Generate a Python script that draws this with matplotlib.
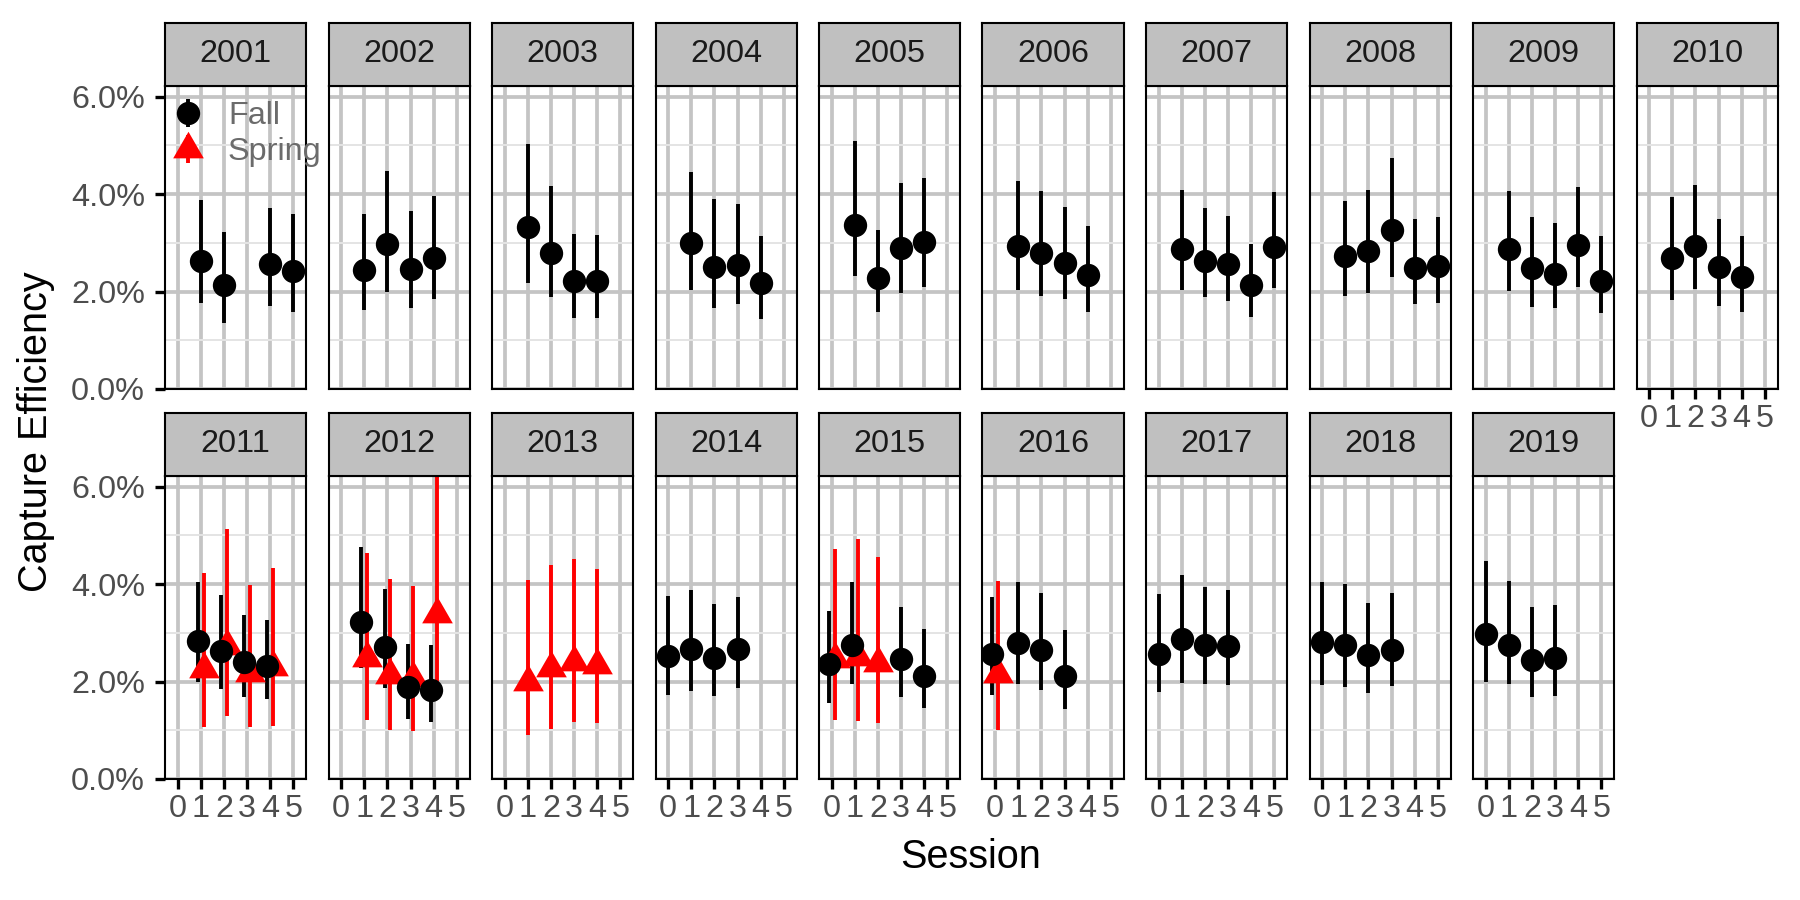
import numpy as np
import matplotlib.pyplot as plt
from matplotlib.lines import Line2D
from matplotlib.path import Path
from matplotlib.legend_handler import HandlerTuple
from matplotlib.ticker import FuncFormatter, FixedLocator

plt.rcParams['font.family'] = ['Liberation Sans', 'DejaVu Sans']

years = list(range(2001, 2020))
sessions = [0, 1, 2, 3, 4, 5]

# fall estimates (percent), with lower / upper interval
fall_year = [2001, 2001, 2001, 2001,
             2002, 2002, 2002, 2002,
             2003, 2003, 2003, 2003,
             2004, 2004, 2004, 2004,
             2005, 2005, 2005, 2005,
             2006, 2006, 2006, 2006,
             2007, 2007, 2007, 2007, 2007,
             2008, 2008, 2008, 2008, 2008,
             2009, 2009, 2009, 2009, 2009,
             2010, 2010, 2010, 2010,
             2011, 2011, 2011, 2011,
             2012, 2012, 2012, 2012,
             2014, 2014, 2014, 2014,
             2015, 2015, 2015, 2015,
             2016, 2016, 2016, 2016,
             2017, 2017, 2017, 2017,
             2018, 2018, 2018, 2018,
             2019, 2019, 2019, 2019]
fall_session = [1, 2, 4, 5,
                1, 2, 3, 4,
                1, 2, 3, 4,
                1, 2, 3, 4,
                1, 2, 3, 4,
                1, 2, 3, 4,
                1, 2, 3, 4, 5,
                1, 2, 3, 4, 5,
                1, 2, 3, 4, 5,
                1, 2, 3, 4,
                1, 2, 3, 4,
                1, 2, 3, 4,
                0, 1, 2, 3,
                0, 1, 3, 4,
                0, 1, 2, 3,
                0, 1, 2, 3,
                0, 1, 2, 3,
                0, 1, 2, 3]
fall_est = [2.62, 2.14, 2.56, 2.43,
            2.45, 2.97, 2.46, 2.69,
            3.33, 2.80, 2.22, 2.22,
            3.00, 2.51, 2.55, 2.18,
            3.37, 2.28, 2.89, 3.01,
            2.93, 2.79, 2.59, 2.33,
            2.88, 2.63, 2.56, 2.13, 2.92,
            2.73, 2.84, 3.27, 2.49, 2.52,
            2.88, 2.49, 2.37, 2.95, 2.22,
            2.68, 2.94, 2.50, 2.29,
            2.84, 2.62, 2.41, 2.32,
            3.23, 2.71, 1.89, 1.83,
            2.52, 2.67, 2.48, 2.67,
            2.36, 2.75, 2.47, 2.12,
            2.56, 2.80, 2.65, 2.12,
            2.56, 2.88, 2.76, 2.73,
            2.82, 2.76, 2.54, 2.65,
            2.97, 2.76, 2.44, 2.49]
fall_lo = [1.77, 1.36, 1.70, 1.58,
           1.62, 1.99, 1.67, 1.85,
           2.18, 1.88, 1.46, 1.46,
           2.03, 1.67, 1.75, 1.43,
           2.32, 1.59, 1.98, 2.10,
           2.03, 1.90, 1.84, 1.58,
           2.03, 1.88, 1.80, 1.48, 2.07,
           1.90, 1.97, 2.30, 1.74, 1.77,
           2.01, 1.69, 1.66, 2.10, 1.56,
           1.82, 2.05, 1.71, 1.59,
           1.99, 1.84, 1.69, 1.64,
           2.27, 1.87, 1.24, 1.16,
           1.73, 1.80, 1.70, 1.87,
           1.56, 1.95, 1.69, 1.45,
           1.73, 1.96, 1.83, 1.43,
           1.78, 1.98, 1.95, 1.93,
           1.93, 1.89, 1.77, 1.90,
           1.99, 1.95, 1.69, 1.70]
fall_hi = [3.89, 3.22, 3.72, 3.60,
           3.60, 4.48, 3.65, 3.96,
           5.03, 4.16, 3.18, 3.17,
           4.45, 3.91, 3.79, 3.14,
           5.10, 3.26, 4.22, 4.34,
           4.27, 4.07, 3.73, 3.35,
           4.08, 3.72, 3.55, 2.98, 4.05,
           3.85, 4.09, 4.75, 3.50, 3.53,
           4.07, 3.54, 3.41, 4.14, 3.14,
           3.95, 4.18, 3.48, 3.15,
           4.05, 3.77, 3.36, 3.26,
           4.76, 3.90, 2.78, 2.75,
           3.75, 3.88, 3.59, 3.73,
           3.44, 4.05, 3.54, 3.08,
           3.73, 4.05, 3.81, 3.06,
           3.79, 4.18, 3.94, 3.87,
           4.05, 4.00, 3.61, 3.81,
           4.48, 4.06, 3.54, 3.57]

# spring estimates (percent)
spring_year = [2011, 2011, 2011, 2011,
               2012, 2012, 2012, 2012,
               2013, 2013, 2013, 2013,
               2015, 2015, 2015,
               2016]
spring_session = [1, 2, 3, 4,
                  1, 2, 3, 4,
                  1, 2, 3, 4,
                  0, 1, 2,
                  0]
spring_est = [2.26, 2.72, 2.17, 2.30,
              2.49, 2.14, 2.07, 3.38,
              2.00, 2.28, 2.40, 2.34,
              2.47, 2.50, 2.38,
              2.16]
spring_lo = [1.06, 1.29, 1.06, 1.09,
             1.21, 1.00, 0.98, 1.64,
             0.91, 1.03, 1.16, 1.14,
             1.21, 1.19, 1.15,
             1.01]
spring_hi = [4.22, 5.13, 3.98, 4.33,
             4.63, 4.10, 3.96, 7.30,
             4.08, 4.40, 4.52, 4.31,
             4.73, 4.92, 4.56,
             4.07]

fall_year = np.array(fall_year)
fall_session = np.array(fall_session, dtype=float)
fall_est, fall_lo, fall_hi = map(np.array, (fall_est, fall_lo, fall_hi))
spring_year = np.array(spring_year)
spring_session = np.array(spring_session, dtype=float)
spring_est, spring_lo, spring_hi = map(np.array, (spring_est, spring_lo, spring_hi))

# dodge where both seasons share a year/session
both = set(zip(fall_year, fall_session)) & set(zip(spring_year, spring_session))
fall_x = np.array([s - 0.125 if (y, s) in both else s for y, s in zip(fall_year, fall_session)])
spring_x = np.array([s + 0.125 if (y, s) in both else s for y, s in zip(spring_year, spring_session)])

# centroid-centred triangle like R's pch 17
tri = Path([(0, 1), (-0.866, -0.5), (0.866, -0.5), (0, 1)],
           [Path.MOVETO, Path.LINETO, Path.LINETO, Path.CLOSEPOLY])

W, H = 1800, 900
fig = plt.figure(figsize=(18, 9), dpi=100)

pw, ph = 141 / W, 303 / H
sh = 63 / H
pitch = 163.5 / W
x0 = 165 / W
row_bottom = [(H - 389) / H, (H - 779) / H]

tick_fs = 23.3
title_fs = 28.5
major_c = '#c4c4c4'
minor_c = '#e4e4e4'
bar_lw = 2.8

axes = []
for i, yr in enumerate(years):
    r, c = divmod(i, 10)
    left = x0 + c * pitch
    bottom = row_bottom[r]
    ax = fig.add_axes([left, bottom, pw, ph])
    axes.append(ax)

    ax.set_xlim(-0.55, 5.55)
    ax.set_ylim(0, 6.22)
    ax.xaxis.set_major_locator(FixedLocator(sessions))
    ax.yaxis.set_major_locator(FixedLocator([0, 2, 4, 6]))
    ax.yaxis.set_minor_locator(FixedLocator([1, 3, 5]))
    ax.yaxis.set_major_formatter(FuncFormatter(lambda v, p: f'{v:.1f}%'))
    ax.set_axisbelow(True)
    ax.grid(which='major', axis='both', color=major_c, linewidth=2.7)
    ax.grid(which='minor', axis='y', color=minor_c, linewidth=1.4)
    for sp in ax.spines.values():
        sp.set_color('black')
        sp.set_linewidth(1.5)

    show_x = (r == 1) or (yr == 2010)
    show_y = (c == 0)
    ax.tick_params(axis='x', which='major', length=7.5, width=2.4, color='black',
                   labelsize=tick_fs, labelcolor='#4d4d4d', pad=3,
                   bottom=show_x, labelbottom=show_x)
    ax.tick_params(axis='y', which='major', length=7.5, width=2.4, color='black',
                   labelsize=tick_fs, labelcolor='#4d4d4d', pad=7,
                   left=show_y, labelleft=show_y)
    ax.tick_params(axis='y', which='minor', length=0)

    fm = fall_year == yr
    ax.vlines(fall_x[fm], fall_lo[fm], fall_hi[fm], color='black', linewidth=bar_lw, zorder=2)
    sm = spring_year == yr
    ax.vlines(spring_x[sm], spring_lo[sm], spring_hi[sm], color='red', linewidth=bar_lw, zorder=2)
    ax.plot(spring_x[sm], spring_est[sm], linestyle='none', marker=tri, markersize=25.5,
            color='red', markeredgewidth=0, zorder=3)
    ax.plot(fall_x[fm], fall_est[fm], linestyle='none', marker='o', markersize=16.8,
            color='black', markeredgewidth=0, zorder=4)

    # facet strip
    st = fig.add_axes([left, bottom + ph, pw, sh])
    st.set_facecolor('#c0c0c0')
    st.set_xticks([])
    st.set_yticks([])
    for sp in st.spines.values():
        sp.set_color('black')
        sp.set_linewidth(1.5)
    st.text(0.5, 0.5, str(yr), ha='center', va='center', fontsize=tick_fs,
            color='#1a1a1a', transform=st.transAxes)

# legend in the first panel
fall_h = (Line2D([], [], color='black', marker='|', markersize=20, markeredgewidth=bar_lw, linestyle='none'),
          Line2D([], [], color='black', marker='o', markersize=16.8, markeredgewidth=0, linestyle='none'))
spring_h = (Line2D([], [], color='red', marker='|', markersize=20, markeredgewidth=bar_lw, linestyle='none'),
            Line2D([], [], color='red', marker=tri, markersize=25.5, markeredgewidth=0, linestyle='none'))
axes[0].legend([fall_h, spring_h], ['Fall', 'Spring'], loc='upper left',
               bbox_to_anchor=(0.045, 0.95), frameon=False, fontsize=tick_fs,
               labelcolor='#6b6b6b', handlelength=1.0, handletextpad=0.75,
               labelspacing=0.18, borderpad=0, borderaxespad=0,
               handler_map={tuple: HandlerTuple(ndivide=1)})

fig.text(971 / W, 1 - 857 / H, 'Session', ha='center', va='center', fontsize=title_fs, color='black')
fig.text(36 / W, 1 - 432 / H, 'Capture Efficiency', ha='center', va='center',
         rotation=90, fontsize=title_fs, color='black')

fig.savefig('out.png', dpi=100, facecolor='white')
